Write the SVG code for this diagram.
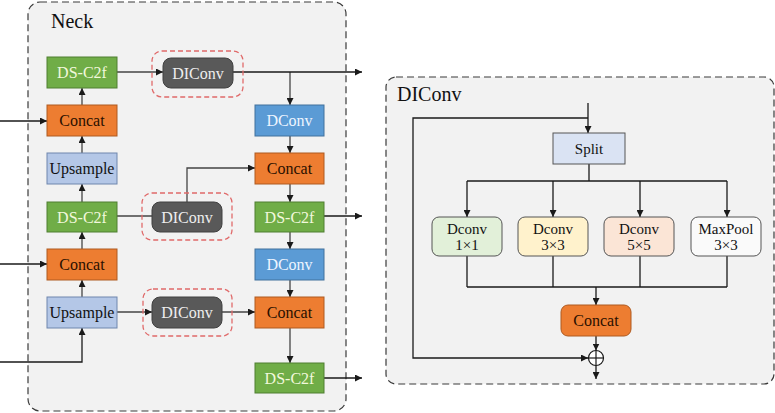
<svg xmlns="http://www.w3.org/2000/svg" width="775" height="413" viewBox="0 0 775 413" font-family="'Liberation Serif', 'Times New Roman', serif">
<defs>
<marker id="ah" viewBox="0 0 10 10" refX="10" refY="5" markerWidth="7" markerHeight="7" markerUnits="userSpaceOnUse" orient="auto">
<path d="M0,0 L10,5 L0,10 z" fill="#1a1a1a"/>
</marker>
<style>
text{font-family:'Liberation Serif','Times New Roman',serif;text-anchor:middle;dominant-baseline:central}
.panel{fill:#f2f2f2;stroke:#3a3a3a;stroke-width:1.2;stroke-dasharray:7,4}
.title{font-size:20px;text-anchor:start;fill:#111}
.lbl{font-size:16px}
.g rect{fill:#70ad47;stroke:#4f7f30;stroke-width:1}
.g text{fill:#f2f8dc}
.o rect{fill:#ed7d31;stroke:#ae5a21;stroke-width:1}
.o text{fill:#2a1000}
.u rect{fill:#b4c7e7;stroke:#6f86ad;stroke-width:1}
.u text{fill:#111}
.b rect{fill:#5b9bd5;stroke:#41719c;stroke-width:1}
.b text{fill:#eef5ff}
.d rect.core{fill:#595959;stroke:#404040;stroke-width:1}
.d text{fill:#eeeeee}
.d rect.halo{fill:none;stroke:#e06a6a;stroke-width:1.3;stroke-dasharray:5,3}
.s rect{stroke:#555;stroke-width:1}
.s text{fill:#111;font-size:15px}
.c line,.c path,.c polyline{fill:none;stroke:#444;stroke-width:1.3}
.k line,.k polyline{fill:none;stroke:#1a1a1a;stroke-width:1.3}
</style>
</defs>

<!-- Neck panel -->
<rect class="panel" x="28" y="2" width="318" height="409" rx="12"/>
<text class="title" x="51" y="21">Neck</text>

<!-- DIConv panel -->
<rect class="panel" x="386" y="77" width="388" height="307" rx="10"/>
<text class="title" x="397" y="94">DIConv</text>

<!-- connectors -->
<g id="connectors">
<g class="c">
<line x1="82" y1="105" x2="82" y2="88" marker-end="url(#ah)"/>
<line x1="82" y1="153" x2="82" y2="136" marker-end="url(#ah)"/>
<line x1="82" y1="202" x2="82" y2="184" marker-end="url(#ah)"/>
<line x1="82" y1="249" x2="82" y2="232" marker-end="url(#ah)"/>
<line x1="82" y1="297" x2="82" y2="280" marker-end="url(#ah)"/>
<line x1="117" y1="72" x2="163" y2="72" marker-end="url(#ah)"/>
<line x1="290" y1="72" x2="290" y2="105" marker-end="url(#ah)"/>
<line x1="290" y1="136" x2="290" y2="153" marker-end="url(#ah)"/>
<line x1="290" y1="184" x2="290" y2="202" marker-end="url(#ah)"/>
<line x1="290" y1="232" x2="290" y2="249" marker-end="url(#ah)"/>
<line x1="290" y1="280" x2="290" y2="297" marker-end="url(#ah)"/>
<line x1="290" y1="328" x2="290" y2="363" marker-end="url(#ah)"/>
<line x1="117" y1="216" x2="152" y2="216"/>
<polyline points="187,202 187,168 255,168" marker-end="url(#ah)"/>
<line x1="117" y1="312" x2="152" y2="312" marker-end="url(#ah)"/>
<line x1="222" y1="312" x2="255" y2="312" marker-end="url(#ah)"/>
</g>
<g class="k">
<line x1="233" y1="72" x2="362" y2="72" marker-end="url(#ah)"/>
<line x1="0" y1="121" x2="47" y2="121" marker-end="url(#ah)"/>
<line x1="0" y1="264" x2="47" y2="264" marker-end="url(#ah)"/>
<polyline points="0,362 82,362 82,328" marker-end="url(#ah)"/>
<line x1="324" y1="216" x2="362" y2="216" marker-end="url(#ah)"/>
<line x1="324" y1="378" x2="362" y2="378" marker-end="url(#ah)"/>
<!-- DIConv internals -->
<line x1="588" y1="103" x2="588" y2="133" marker-end="url(#ah)"/>
<polyline points="588,118 413,118 413,358 588,358" marker-end="url(#ah)"/>
<polyline points="589,164 589,181"/>
<line x1="467" y1="181" x2="727" y2="181"/>
<line x1="467" y1="181" x2="467" y2="217" marker-end="url(#ah)"/>
<line x1="553" y1="181" x2="553" y2="217" marker-end="url(#ah)"/>
<line x1="640" y1="181" x2="640" y2="217" marker-end="url(#ah)"/>
<line x1="727" y1="181" x2="727" y2="217" marker-end="url(#ah)"/>
<line x1="467" y1="256" x2="467" y2="287"/>
<line x1="553" y1="256" x2="553" y2="287"/>
<line x1="640" y1="256" x2="640" y2="287"/>
<line x1="727" y1="256" x2="727" y2="287"/>
<line x1="467" y1="287" x2="727" y2="287"/>
<line x1="596" y1="287" x2="596" y2="305" marker-end="url(#ah)"/>
<line x1="596" y1="336" x2="596" y2="350.5" marker-end="url(#ah)"/>
<line x1="596" y1="365.5" x2="596" y2="379" marker-end="url(#ah)"/>
</g>
</g>

<!-- Neck nodes -->
<g id="dsc2f-1" class="g"><rect x="47" y="57" width="70" height="31"/><text class="lbl" x="82" y="72.5">DS-C2f</text></g>
<g id="concat-1" class="o"><rect x="47" y="105" width="70" height="31"/><text class="lbl" x="82" y="120.5">Concat</text></g>
<g id="upsample-1" class="u"><rect x="47" y="153" width="70" height="31"/><text class="lbl" x="82" y="168.5">Upsample</text></g>
<g id="dsc2f-2" class="g"><rect x="47" y="202" width="70" height="30"/><text class="lbl" x="82" y="217">DS-C2f</text></g>
<g id="concat-2" class="o"><rect x="47" y="249" width="70" height="31"/><text class="lbl" x="82" y="264.5">Concat</text></g>
<g id="upsample-2" class="u"><rect x="47" y="297" width="70" height="31"/><text class="lbl" x="82" y="312.5">Upsample</text></g>

<g id="diconv-1" class="d"><rect class="halo" x="152" y="51" width="91" height="46" rx="10"/><rect class="core" x="163" y="58" width="70" height="30" rx="8"/><text class="lbl" x="198" y="73">DIConv</text></g>
<g id="diconv-2" class="d"><rect class="halo" x="142" y="193" width="90" height="47" rx="10"/><rect class="core" x="152" y="202" width="70" height="30" rx="8"/><text class="lbl" x="187" y="217">DIConv</text></g>
<g id="diconv-3" class="d"><rect class="halo" x="143" y="289" width="89" height="47" rx="10"/><rect class="core" x="152" y="297" width="70" height="31" rx="8"/><text class="lbl" x="187" y="312.5">DIConv</text></g>

<g id="dconv-1" class="b"><rect x="255" y="105" width="69" height="31"/><text class="lbl" x="289.5" y="120.5">DConv</text></g>
<g id="concat-3" class="o"><rect x="255" y="153" width="69" height="31"/><text class="lbl" x="289.5" y="168.5">Concat</text></g>
<g id="dsc2f-3" class="g"><rect x="255" y="202" width="69" height="30"/><text class="lbl" x="289.5" y="217">DS-C2f</text></g>
<g id="dconv-2" class="b"><rect x="255" y="249" width="69" height="31"/><text class="lbl" x="289.5" y="264.5">DConv</text></g>
<g id="concat-4" class="o"><rect x="255" y="297" width="69" height="31"/><text class="lbl" x="289.5" y="312.5">Concat</text></g>
<g id="dsc2f-4" class="g"><rect x="255" y="363" width="69" height="30"/><text class="lbl" x="289.5" y="378">DS-C2f</text></g>

<!-- DIConv nodes -->
<g id="split" class="s"><rect x="553" y="133" width="72" height="31" fill="#dae3f3"/><text x="589" y="148.5">Split</text></g>
<g id="dconv1x1" class="s"><rect x="432" y="217" width="70" height="39" rx="7" fill="#e2f0d9"/><text x="467" y="229">Dconv</text><text x="467" y="245">1×1</text></g>
<g id="dconv3x3" class="s"><rect x="518" y="217" width="70" height="39" rx="7" fill="#fff2cc"/><text x="553" y="229">Dconv</text><text x="553" y="245">3×3</text></g>
<g id="dconv5x5" class="s"><rect x="604" y="217" width="70" height="39" rx="7" fill="#fbe5d6"/><text x="639" y="229">Dconv</text><text x="639" y="245">5×5</text></g>
<g id="maxpool" class="s"><rect x="691" y="217" width="70" height="39" rx="7" fill="#fafafa"/><text x="726" y="229">MaxPool</text><text x="726" y="245">3×3</text></g>
<g id="concat-d" class="o"><rect x="561" y="305" width="70" height="31" rx="7"/><text class="lbl" x="596" y="320.5">Concat</text></g>
<g id="add"><circle cx="596" cy="358" r="7.5" fill="#ffffff" stroke="#1a1a1a" stroke-width="1.2"/><line x1="588.5" y1="358" x2="603.5" y2="358" stroke="#1a1a1a" stroke-width="1.2"/><line x1="596" y1="350.5" x2="596" y2="365.5" stroke="#1a1a1a" stroke-width="1.2"/></g>
</svg>
